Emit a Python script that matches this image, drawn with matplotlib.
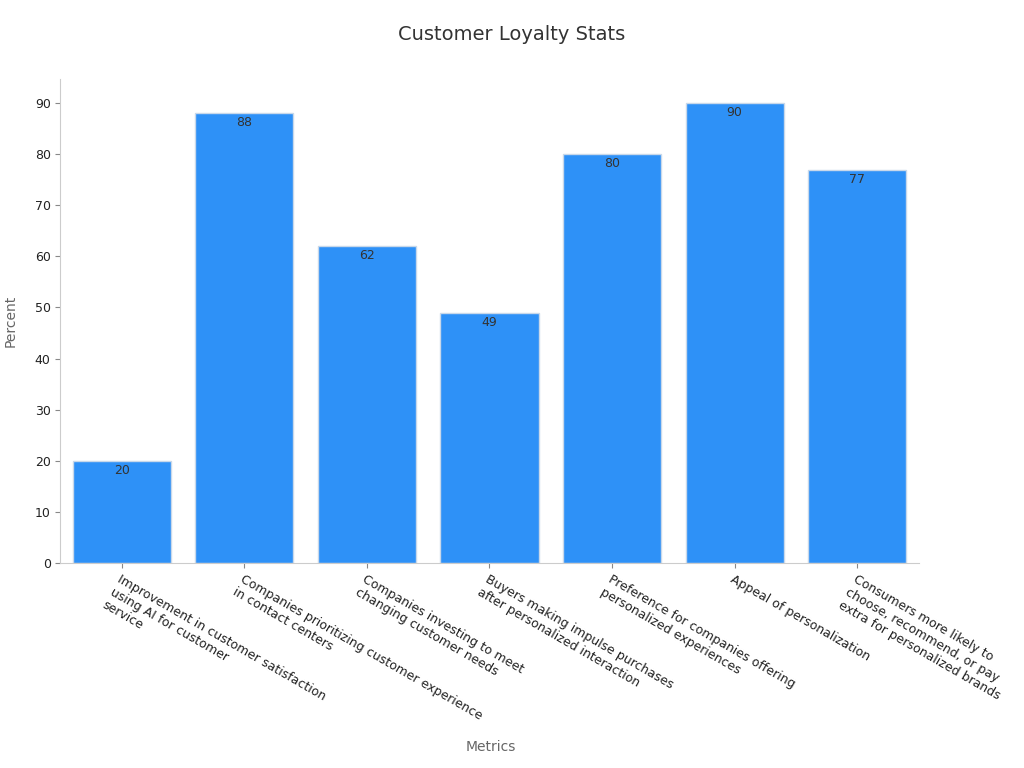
import matplotlib
matplotlib.use("Agg")
import matplotlib.pyplot as plt

categories = [
    "Improvement in customer satisfaction\nusing AI for customer\nservice",
    "Companies prioritizing customer experience\nin contact centers",
    "Companies investing to meet\nchanging customer needs",
    "Buyers making impulse purchases\nafter personalized interaction",
    "Preference for companies offering\npersonalized experiences",
    "Appeal of personalization",
    "Consumers more likely to\nchoose, recommend, or pay\nextra for personalized brands",
]
values = [20, 88, 62, 49, 80, 90, 77]

fig = plt.figure(figsize=(10.24, 7.68), dpi=100)
ax = fig.add_axes([0.059, 0.267, 0.838, 0.63])

bars = ax.bar(range(len(values)), values, width=0.8, color="#2e91f7",
              edgecolor="#c8d8ea", linewidth=1)
for b, v in zip(bars, values):
    ax.text(b.get_x() + b.get_width() / 2, v - 0.6, str(v), ha="center", va="top",
            fontsize=9, color="#333333")

ax.set_xlim(-0.5, len(values) - 0.5)
ax.set_ylim(0, 94.7)
ax.set_yticks(range(0, 91, 10))
ax.set_xticks(range(len(values)))
ax.set_xticklabels(categories, rotation=-30, ha="left", rotation_mode="anchor",
                   fontsize=9, color="#222222")
ax.tick_params(axis="y", labelsize=9, colors="#222222")
for s in ["top", "right"]:
    ax.spines[s].set_visible(False)
for s in ["left", "bottom"]:
    ax.spines[s].set_color("#cccccc")
ax.tick_params(color="#888888")

ax.set_ylabel("Percent", fontsize=10, color="#666666", labelpad=12)
fig.text(0.479, 0.022, "Metrics", ha="center", fontsize=10, color="#666666")
fig.text(0.5, 0.955, "Customer Loyalty Stats", ha="center", va="center",
         fontsize=14, color="#333333")

fig.savefig("out.png")
